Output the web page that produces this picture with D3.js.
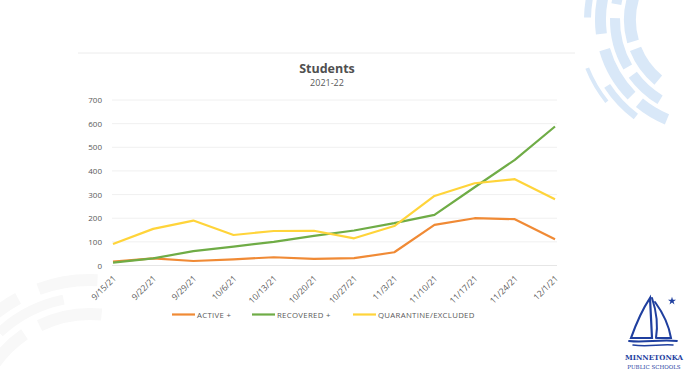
<!DOCTYPE html>
<html><head><meta charset="utf-8">
<script src="https://cdn.jsdelivr.net/npm/d3@7"></script>
<style>
html,body{margin:0;padding:0;background:#fff;}
svg{display:block;font-family:"Open Sans",sans-serif;}
</style></head>
<body>
<svg id="c" width="700" height="382"></svg>
<script>
const dates = ["9/15/21","9/22/21","9/29/21","10/6/21","10/13/21","10/20/21","10/27/21","11/3/21","11/10/21","11/17/21","11/24/21","12/1/21"];
const active = [16,30,19,26,35,28,31,56,172,200,196,111];
const recovered = [12,30,61,80,100,125,148,179,214,331,447,588];
const quarantine = [91,155,190,129,146,147,115,167,294,348,365,280];
const yTicks = [0,100,200,300,400,500,600,700];
const seriesNames = ["ACTIVE +","RECOVERED +","QUARANTINE/EXCLUDED"];
const seriesColors = ["#F08A35","#6FAC46","#FFD43A"];

const svg = d3.select("#c");

// background decorations
const deco = svg.append("g");
const arcGen = d3.arc();
const tr = deco.append("g").attr("transform","translate(708,20)");
const trArcs = [
  [72,84,-2.45,-1.95],[72,84,-1.85,-1.15],
  [88,98,-2.6,-2.2],[88,98,-2.1,-1.55],[88,98,-1.4,-0.95],
  [102,113,-2.75,-2.45],[102,113,-2.35,-1.85],[102,113,-1.7,-1.15],
  [117,124,-2.5,-2.15],[117,124,-1.55,-1.05],
  [128,132,-2.25,-1.95]
];
trArcs.forEach(a=>tr.append("path").attr("d",arcGen({innerRadius:a[0],outerRadius:a[1],startAngle:a[2],endAngle:a[3]})).attr("fill","#d9e8f8"));
const bl = deco.append("g").attr("transform","translate(90,430)");
const blArcs = [
  [110,122,-1.2,-0.6],[110,122,-0.45,0.1],
  [128,138,-1.35,-0.9],[128,138,-0.75,-0.2],
  [144,156,-1.1,-0.5],[144,156,-0.35,0.05],
  [162,170,-1.3,-0.8]
];
blArcs.forEach(a=>bl.append("path").attr("d",arcGen({innerRadius:a[0],outerRadius:a[1],startAngle:a[2],endAngle:a[3]})).attr("fill","#f8f8f8"));

// chart frame top line
svg.append("line").attr("x1",78).attr("x2",575).attr("y1",53).attr("y2",53).attr("stroke","#ececec").attr("stroke-width",1);

const x = d3.scalePoint().domain(dates).range([113,555]);
const y = d3.scaleLinear().domain([0,700]).range([265.5,100]);

// gridlines
svg.append("g").selectAll("line").data(yTicks).join("line")
  .attr("x1",112).attr("x2",557).attr("y1",d=>y(d)).attr("y2",d=>y(d))
  .attr("stroke",d=>d===0?"#e6e6e6":"#f0f0f0").attr("stroke-width",1);

// y axis
const yAxis = svg.append("g").attr("transform","translate(102,0)")
  .call(d3.axisLeft(y).tickValues(yTicks).tickSize(0).tickPadding(0));
yAxis.select(".domain").remove();
yAxis.selectAll("text").attr("fill","#595959").attr("font-size","8px").attr("font-family","Open Sans, sans-serif");

// x axis
const xAxis = svg.append("g").attr("transform","translate(0,270)")
  .call(d3.axisBottom(x).tickSize(0).tickPadding(0));
xAxis.select(".domain").remove();
xAxis.selectAll("text")
  .attr("fill","#595959").attr("font-size","8.5px").attr("font-family","Open Sans, sans-serif")
  .attr("text-anchor","end").attr("y",0).attr("dy","0.35em")
  .attr("transform","translate(1,7) rotate(-45)");

// lines
const line = d3.line().x((d,i)=>x(dates[i])).y(d=>y(d));
[active,recovered,quarantine].forEach((s,k)=>{
  svg.append("path").datum(s).attr("d",line).attr("fill","none")
    .attr("stroke",seriesColors[k]).attr("stroke-width",2.2).attr("stroke-linejoin","round");
});

// title
svg.append("text").attr("x",327).attr("y",73).attr("text-anchor","middle")
  .attr("font-size","12.5px").attr("font-weight","bold").attr("fill","#505050").text("Students");
svg.append("text").attr("x",327).attr("y",86).attr("text-anchor","middle")
  .attr("font-size","9px").attr("fill","#595959").text("2021-22");

// legend
const legX = [172,252,353];
const leg = svg.append("g");
seriesNames.forEach((n,k)=>{
  leg.append("line").attr("x1",legX[k]).attr("x2",legX[k]+23).attr("y1",314.5).attr("y2",314.5)
    .attr("stroke",seriesColors[k]).attr("stroke-width",2.2);
  leg.append("text").attr("x",legX[k]+25).attr("y",317.5).attr("font-size","7.8px")
    .attr("fill","#595959").attr("letter-spacing","0.3px").text(n);
});

// logo
const logo = svg.append("g").attr("fill","none").attr("stroke","#1f3f9f").attr("stroke-linecap","round");
logo.append("path").attr("d","M650,298 C642,310 636,324 631,338 L652,338 Z").attr("stroke-width",2.2);
logo.append("path").attr("d","M652,298 C656,310 658,326 656,338").attr("stroke-width",2);
logo.append("path").attr("d","M655,302 C663,313 669,326 671,338 L657,338").attr("stroke-width",2);
logo.append("path").attr("d","M629,341 C645,343 660,339 677,341").attr("stroke-width",1.8);
logo.append("path").attr("d","M633,345 C648,347 660,344 673,345").attr("stroke-width",1.5);
svg.append("path").attr("d",d3.symbol().type(d3.symbolStar).size(20)()).attr("transform","translate(672,301)").attr("fill","#1f3f9f");
svg.append("text").attr("x",654).attr("y",360).attr("text-anchor","middle").attr("font-family","DejaVu Serif, serif")
  .attr("font-size","7px").attr("font-weight","bold").attr("fill","#1f3f9f").text("MINNETONKA");
svg.append("text").attr("x",654).attr("y",369).attr("text-anchor","middle").attr("font-family","DejaVu Serif, serif")
  .attr("font-size","5.5px").attr("fill","#1f3f9f").text("PUBLIC SCHOOLS");
</script>
</body></html>
